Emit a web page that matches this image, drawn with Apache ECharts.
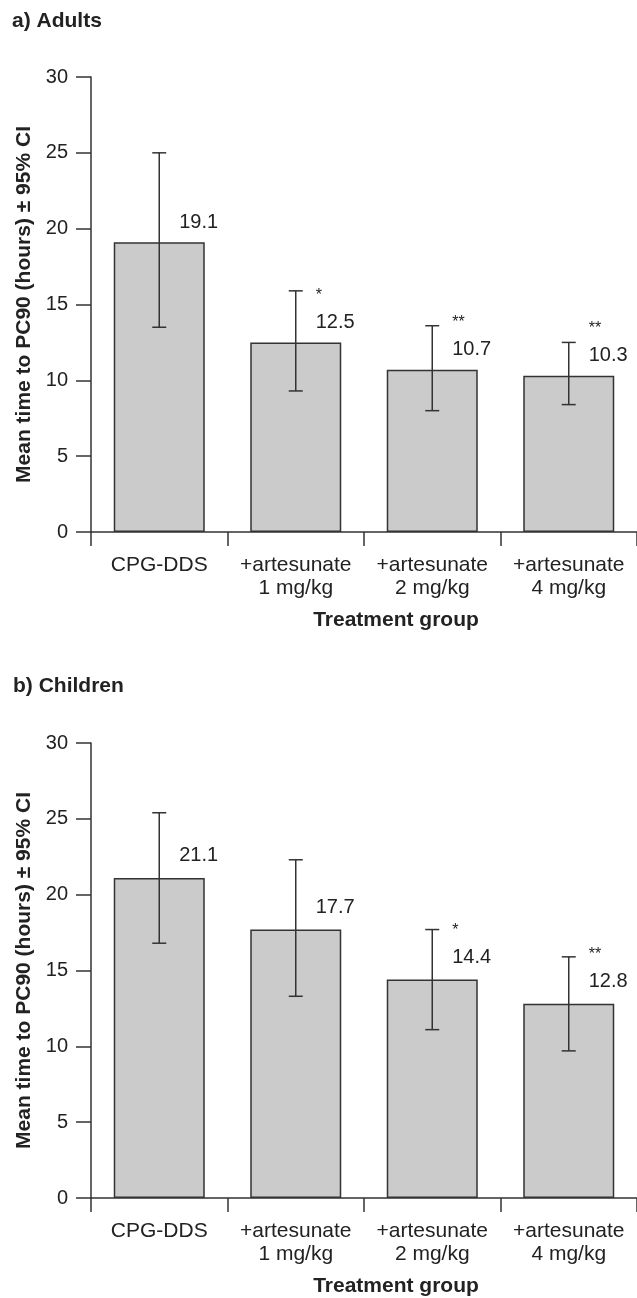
<!DOCTYPE html>
<html>
<head>
<meta charset="utf-8">
<script src="https://cdn.jsdelivr.net/npm/echarts@6/dist/echarts.min.js"></script>
<style>
html,body{margin:0;padding:0;background:#fff;}
#chart{width:637px;height:1298px;}
</style>
</head>
<body>
<div id="chart"></div>
<script>
const categories = ['CPG-DDS', '+artesunate\n1 mg/kg', '+artesunate\n2 mg/kg', '+artesunate\n4 mg/kg'];
const adultMean = [19.1, 12.5, 10.7, 10.3];
const adultLow  = [13.5, 9.3, 8.0, 8.4];
const adultHigh = [25.0, 15.9, 13.6, 12.5];
const adultSig  = ['', '*', '**', '**'];
const childMean = [21.1, 17.7, 14.4, 12.8];
const childLow  = [16.8, 13.3, 11.1, 9.7];
const childHigh = [25.4, 22.3, 17.7, 15.9];
const childSig  = ['', '', '*', '**'];
const panelTitles = ['a) Adults', 'b) Children'];
const yTitle = 'Mean time to PC90 (hours) \u00b1 95% CI';
const xTitle = 'Treatment group';

const FONT = '"Liberation Sans", Arial, sans-serif';
const INK = '#222';
const LINE = '#333';

const chart = echarts.init(document.getElementById('chart'), null, {renderer: 'canvas'});

function xAxisCfg(gi) {
  return {
    type: 'category', gridIndex: gi, data: categories,
    axisLine: {show: true, lineStyle: {color: LINE, width: 1.5}},
    axisTick: {show: true, length: 14, lineStyle: {color: LINE, width: 1.5}},
    axisLabel: {color: INK, fontFamily: FONT, fontSize: 21, lineHeight: 23, margin: 22, interval: 0},
    name: xTitle, nameLocation: 'middle', nameGap: 78,
    nameTextStyle: {color: INK, fontFamily: FONT, fontSize: 21, fontWeight: 'bold', padding: [0, 0, 0, 64]}
  };
}
function yAxisCfg(gi) {
  return {
    type: 'value', gridIndex: gi, min: 0, max: 30, interval: 5,
    splitLine: {show: false},
    axisLine: {show: true, lineStyle: {color: LINE, width: 1.5}},
    axisTick: {show: true, length: 15, lineStyle: {color: LINE, width: 1.5}},
    axisLabel: {color: INK, fontFamily: FONT, fontSize: 20, margin: 23},
    name: yTitle, nameLocation: 'middle', nameGap: 56, nameRotate: 90,
    nameTextStyle: {color: INK, fontFamily: FONT, fontSize: 21, fontWeight: 'bold'}
  };
}
function barSeries(gi, mean, sig, dist) {
  return {
    type: 'bar', xAxisIndex: gi, yAxisIndex: gi, data: mean, barWidth: 91,
    itemStyle: {color: '#cbcbcb', borderColor: LINE, borderWidth: 1.5},
    label: {
      show: true, position: 'top', distance: dist, align: 'left', offset: [20, 0],
      formatter: function (p) {
        const s = sig[p.dataIndex];
        return (s ? '{s|' + s + '}\n' : '') + '{v|' + p.value.toFixed(1) + '}';
      },
      rich: {
        v: {fontFamily: FONT, fontSize: 20, lineHeight: 24, color: INK},
        s: {fontFamily: FONT, fontSize: 16, lineHeight: 30, color: INK}
      }
    },
    z: 2
  };
}
function errSeries(gi, low, high) {
  return {
    type: 'custom', xAxisIndex: gi, yAxisIndex: gi,
    data: low.map(function (l, i) { return [i, l, high[i]]; }),
    encode: {x: 0, y: [1, 2]},
    renderItem: function (params, api) {
      const i = api.value(0);
      const lo = api.coord([i, api.value(1)]);
      const hi = api.coord([i, api.value(2)]);
      const w = 7;
      const st = {stroke: LINE, lineWidth: 1.5};
      return {type: 'group', children: [
        {type: 'line', shape: {x1: lo[0], y1: lo[1], x2: hi[0], y2: hi[1]}, style: st},
        {type: 'line', shape: {x1: hi[0] - w, y1: hi[1], x2: hi[0] + w, y2: hi[1]}, style: st},
        {type: 'line', shape: {x1: lo[0] - w, y1: lo[1], x2: lo[0] + w, y2: lo[1]}, style: st}
      ]};
    },
    z: 3
  };
}

chart.setOption({
  backgroundColor: '#fff',
  animation: false,
  title: [
    {text: panelTitles[0], left: 7, top: 6, textStyle: {fontFamily: FONT, fontSize: 21, fontWeight: 'bold', color: INK}},
    {text: panelTitles[1], left: 8, top: 671, textStyle: {fontFamily: FONT, fontSize: 21, fontWeight: 'bold', color: INK}}
  ],
  grid: [
    {left: 91, top: 77, width: 548, height: 455},
    {left: 91, top: 743, width: 548, height: 455}
  ],
  xAxis: [xAxisCfg(0), xAxisCfg(1)],
  yAxis: [yAxisCfg(0), yAxisCfg(1)],
  series: [
    barSeries(0, adultMean, adultSig, 8),
    errSeries(0, adultLow, adultHigh),
    barSeries(1, childMean, childSig, 10),
    errSeries(1, childLow, childHigh)
  ]
});
</script>
</body>
</html>
